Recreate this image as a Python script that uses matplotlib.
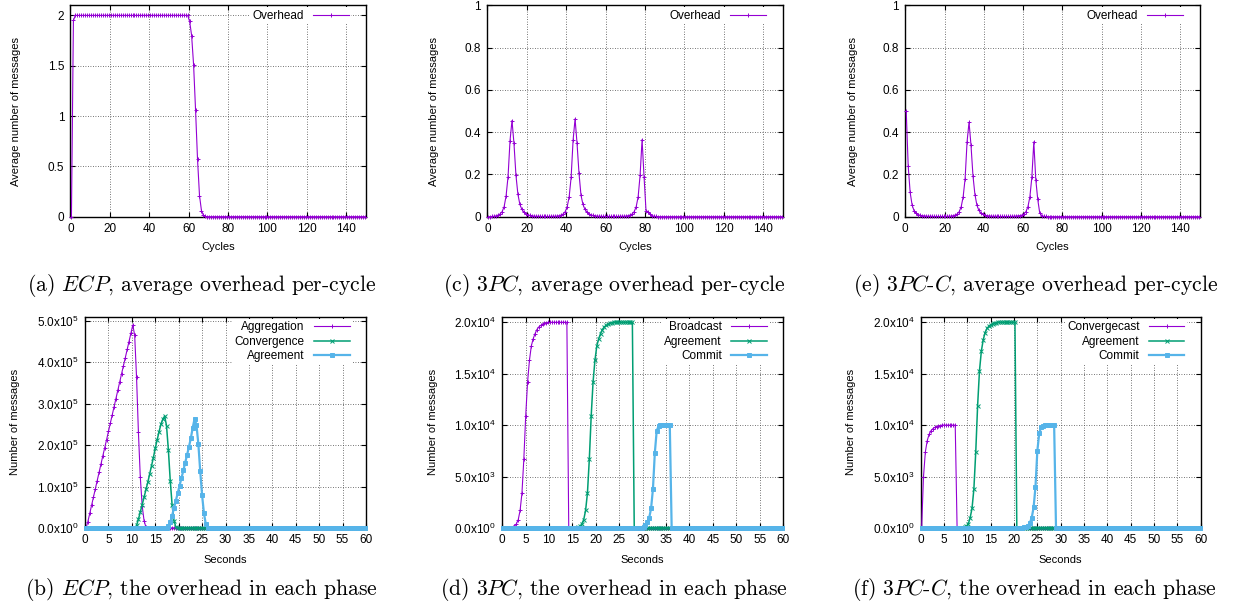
import numpy as np
import matplotlib
matplotlib.use("Agg")
import matplotlib.pyplot as plt
from matplotlib.ticker import FuncFormatter

plt.rcParams['font.family'] = ['Liberation Sans', 'DejaVu Sans']
plt.rcParams['mathtext.fontset'] = 'cm'

PURPLE = '#9400d3'
GREEN = '#009e73'
BLUE = '#56b4e9'

# average overhead per cycle, 150 cycles
ecp_overhead = ([0.0, 1.95] + [2.0] * 58 +
                [1.94, 1.8, 1.51, 1.06, 0.57, 0.21, 0.06, 0.015, 0.003] +
                [0.0] * 81)
tpc_overhead = ([0.0, 0.0, 0.001, 0.002, 0.004, 0.008, 0.013, 0.024, 0.047, 0.098,
                 0.19, 0.36, 0.455, 0.347, 0.197, 0.106, 0.058, 0.035, 0.022, 0.014,
                 0.009, 0.006, 0.004, 0.003] +
                [0.002, 0.002, 0.002, 0.001, 0.001, 0.001, 0.001, 0.001, 0.002, 0.002,
                 0.002, 0.003] +
                [0.005, 0.008, 0.013, 0.024, 0.047, 0.094, 0.186, 0.362, 0.463, 0.347,
                 0.205, 0.102, 0.058, 0.035, 0.022, 0.014, 0.009, 0.006, 0.004, 0.003] +
                [0.002, 0.002, 0.001, 0.001, 0.001, 0.001, 0.001, 0.001, 0.001, 0.001,
                 0.001, 0.002, 0.002, 0.002] +
                [0.003, 0.005, 0.008, 0.013, 0.024, 0.047, 0.094, 0.197, 0.365, 0.189,
                 0.028, 0.024, 0.011, 0.005, 0.002, 0.001] +
                [0.0] * 64)
tpcc_overhead = ([0.5, 0.24, 0.115, 0.055, 0.028, 0.016, 0.01, 0.007, 0.005, 0.004,
                  0.003, 0.002, 0.002] +
                 [0.002, 0.001, 0.001, 0.001, 0.001, 0.001, 0.001, 0.001, 0.002, 0.002,
                  0.003] +
                 [0.005, 0.008, 0.013, 0.024, 0.047, 0.094, 0.18, 0.355, 0.447, 0.338,
                  0.194, 0.105, 0.055, 0.03, 0.018, 0.011, 0.007, 0.005, 0.004, 0.003,
                  0.002, 0.002] +
                 [0.002, 0.001, 0.001, 0.001, 0.001, 0.001, 0.001, 0.001, 0.002, 0.002,
                  0.003] +
                 [0.004, 0.005, 0.008, 0.013, 0.024, 0.047, 0.094, 0.186, 0.354, 0.176,
                  0.082, 0.019, 0.005, 0.002, 0.001] +
                 [0.0] * 78)

# messages per phase, one value per 0.4 s slot over 60 s
ecp_aggregation_e5 = ([0.0] +
                      [0.15, 0.35, 0.55, 0.74, 0.94, 1.14, 1.34, 1.54, 1.74, 1.93,
                       2.13, 2.33, 2.53, 2.73, 2.92, 3.12, 3.32, 3.52, 3.72, 3.91,
                       4.11, 4.31, 4.5, 4.7, 4.9] +
                      [4.65, 3.64, 2.31, 1.23, 0.54, 0.18, 0.02] +
                      [0.0] * 117)
ecp_convergence_e5 = ([0.0] * 27 +
                      [0.06, 0.21, 0.38, 0.56, 0.74, 0.93, 1.1, 1.3, 1.5, 1.7,
                       1.93, 2.13, 2.32, 2.5, 2.62, 2.7, 2.47, 1.88, 1.14, 0.55,
                       0.18, 0.02] +
                      [0.0] * 101)
ecp_agreement_e5 = ([0.0] * 43 +
                    [0.01, 0.05, 0.14, 0.3, 0.48, 0.66, 0.84, 1.02, 1.2, 1.39,
                     1.58, 1.77, 1.96, 2.17, 2.42, 2.64, 2.48, 2.03, 1.37, 0.79,
                     0.35, 0.09, 0.01] +
                    [0.0] * 84)

tpc_rise_e4 = [0.005, 0.015, 0.04, 0.08, 0.17, 0.34, 0.67, 1.09, 1.42, 1.63,
               1.77, 1.84, 1.89, 1.93, 1.955, 1.97, 1.98, 1.99, 1.995]
tpc_broadcast_e4 = [0.0] * 5 + tpc_rise_e4 + [2.0] * 11 + [0.0] * 115
tpc_agreement_e4 = [0.0] * 40 + tpc_rise_e4 + [2.0] * 11 + [0.0] * 80
tpc_commit_e4 = ([0.0] * 75 +
                 [0.01, 0.025, 0.055, 0.1, 0.19, 0.38, 0.73, 0.945, 0.99, 0.997] +
                 [1.0] * 5 + [0.0] * 60)

tpcc_convergecast_e4 = ([0.0, 0.5, 0.74, 0.85, 0.91, 0.945, 0.965, 0.978, 0.986, 0.992,
                         0.996] + [1.0] * 8 + [0.0] * 131)
tpcc_agreement_e4 = ([0.0] * 23 +
                     [0.005, 0.015, 0.04, 0.1, 0.19, 0.38, 0.74, 1.19, 1.53, 1.72,
                      1.83, 1.9, 1.94, 1.96, 1.975, 1.985, 1.99, 1.995] +
                     [2.0] * 10 + [0.0] * 99)
tpcc_commit_e4 = ([0.0] * 55 +
                  [0.005, 0.01, 0.02, 0.05, 0.1, 0.2, 0.4, 0.75, 0.92, 0.98, 0.995] +
                  [1.0] * 6 + [0.0] * 78)

cycles = np.arange(len(ecp_overhead)) + 0.5
seconds = np.arange(len(ecp_aggregation_e5)) * 0.4 + 0.2


def sci_label(v, pos):
    if v == 0:
        return r'$\mathregular{0.0x10^{0}}$'
    exp = int(np.floor(np.log10(v) + 1e-9))
    return r'$\mathregular{%.1fx10^{%d}}$' % (v / 10 ** exp, exp)


def style_axes(ax, xmax, xstep, ylim, ystep, xlabel, ylabel, ylabel_x, sci):
    ax.set_xlim(0, xmax)
    ax.set_ylim(*ylim)
    ax.set_xticks(np.arange(0, xmax + 0.01, xstep))
    ax.set_yticks(np.arange(0, ylim[1] + ystep * 0.01, ystep))
    if sci:
        ax.yaxis.set_major_formatter(FuncFormatter(sci_label))
    else:
        ax.yaxis.set_major_formatter(FuncFormatter(lambda v, p: '%g' % round(v, 3)))
    ax.tick_params(direction='in', top=True, right=True, length=3.5, width=0.8,
                   labelsize=8.5, pad=4.5)
    ax.grid(True, ls=(0, (1, 2)), color='#484848', lw=0.6)
    ax.set_axisbelow(True)
    for s in ax.spines.values():
        s.set_linewidth(1.0)
    ax.set_xlabel(xlabel, fontsize=8)
    ax.set_ylabel(ylabel, fontsize=8)
    ax.xaxis.set_label_coords(0.5, -0.122 if not sci else -0.128)
    ax.yaxis.set_label_coords(ylabel_x, 0.5)


def draw(ax, x, y, color, marker, lw, ms, label):
    ax.plot(x, y, color=color, lw=lw, marker=marker, ms=ms, mew=0.7,
            label=label, clip_on=False, zorder=3)


def add_legend(ax):
    ax.legend(loc='upper right', bbox_to_anchor=(0.95, 0.99), borderaxespad=0,
              markerfirst=False, frameon=True, fancybox=False, edgecolor='none',
              facecolor='white', framealpha=1, fontsize=8.5, handlelength=3.0,
              handletextpad=0.8, labelspacing=0.22, borderpad=0.2)


fig = plt.figure(figsize=(12.36, 6.12), dpi=100)

ax_a = fig.add_axes([0.0570, 0.6459, 0.2391, 0.3454])
ax_c = fig.add_axes([0.3943, 0.6459, 0.2392, 0.3454])
ax_e = fig.add_axes([0.7324, 0.6459, 0.2382, 0.3454])
ax_b = fig.add_axes([0.0688, 0.1373, 0.2273, 0.3453])
ax_d = fig.add_axes([0.4064, 0.1373, 0.2271, 0.3453])
ax_f = fig.add_axes([0.7449, 0.1373, 0.2265, 0.3453])

# top row: average overhead per cycle
for ax, y, ytop, ystep, lx in [(ax_a, ecp_overhead, 2.1, 0.5, -0.166),
                               (ax_c, tpc_overhead, 1.0, 0.2, -0.165),
                               (ax_e, tpcc_overhead, 1.0, 0.2, -0.161)]:
    draw(ax, cycles, y, PURPLE, '+', 0.8, 3.5, 'Overhead')
    style_axes(ax, 150, 20, (0, ytop), ystep, 'Cycles',
               'Average number of messages', lx, False)
    add_legend(ax)

# bottom row: overhead of each phase
draw(ax_b, seconds, np.array(ecp_aggregation_e5) * 1e5, PURPLE, '+', 0.8, 3.5, 'Aggregation')
draw(ax_b, seconds, np.array(ecp_convergence_e5) * 1e5, GREEN, 'x', 1.1, 2.8, 'Convergence')
draw(ax_b, seconds, np.array(ecp_agreement_e5) * 1e5, BLUE, 's', 1.6, 2.3, 'Agreement')
style_axes(ax_b, 60, 5, (0, 5.1e5), 1e5, 'Seconds', 'Number of messages', -0.231, True)

draw(ax_d, seconds, np.array(tpc_broadcast_e4) * 1e4, PURPLE, '+', 0.8, 3.5, 'Broadcast')
draw(ax_d, seconds, np.array(tpc_agreement_e4) * 1e4, GREEN, 'x', 1.1, 2.8, 'Agreement')
draw(ax_d, seconds, np.array(tpc_commit_e4) * 1e4, BLUE, 's', 1.6, 2.3, 'Commit')
style_axes(ax_d, 60, 5, (0, 2.055e4), 5e3, 'Seconds', 'Number of messages', -0.229, True)

draw(ax_f, seconds, np.array(tpcc_convergecast_e4) * 1e4, PURPLE, '+', 0.8, 3.5, 'Convergecast')
draw(ax_f, seconds, np.array(tpcc_agreement_e4) * 1e4, GREEN, 'x', 1.1, 2.8, 'Agreement')
draw(ax_f, seconds, np.array(tpcc_commit_e4) * 1e4, BLUE, 's', 1.6, 2.3, 'Commit')
style_axes(ax_f, 60, 5, (0, 2.055e4), 5e3, 'Seconds', 'Number of messages', -0.231, True)

for ax in (ax_b, ax_d, ax_f):
    add_legend(ax)

# sub-figure captions
captions = [
    (201.5, 291, r'(a) $\mathit{ECP}$, average overhead per-cycle'),
    (614.5, 291, r'(c) $\mathit{3PC}$, average overhead per-cycle'),
    (1035.5, 291, r'(e) $\mathit{3PC}$-$\mathit{C}$, average overhead per-cycle'),
    (201.5, 595, r'(b) $\mathit{ECP}$, the overhead in each phase'),
    (614.0, 595, r'(d) $\mathit{3PC}$, the overhead in each phase'),
    (1034.5, 595, r'(f) $\mathit{3PC}$-$\mathit{C}$, the overhead in each phase'),
]
for cx, cy, text in captions:
    fig.text(cx / 1236, 1 - cy / 612, text, ha='center', va='baseline',
             fontsize=15.6, family='cmr10')

fig.savefig('out.png', dpi=100)
